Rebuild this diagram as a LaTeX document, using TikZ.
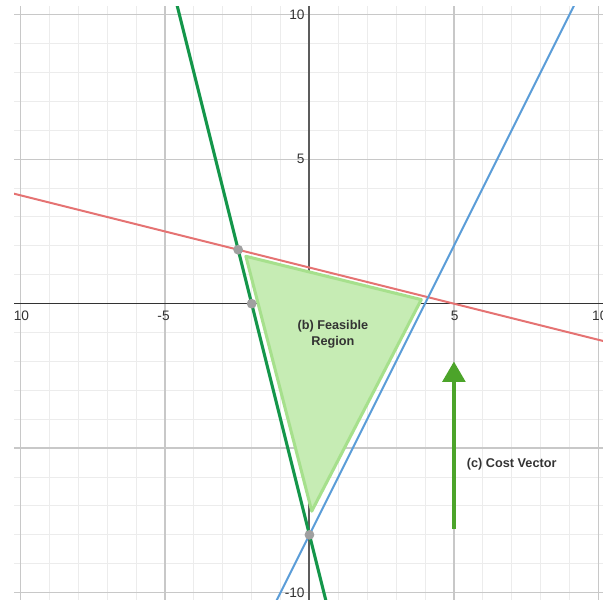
\documentclass[tikz,border=0pt]{standalone}
\usepackage{fontspec}
\setmainfont{Liberation Sans}
\usetikzlibrary{arrows.meta}

\definecolor{gridminor}{HTML}{ECECEC}
\definecolor{gridmajor}{HTML}{C8C8C8}
\definecolor{axiscol}{HTML}{333333}
\definecolor{redline}{HTML}{E57373}
\definecolor{blueline}{HTML}{5B9DD8}
\definecolor{greenline}{HTML}{14964A}
\definecolor{regionfill}{HTML}{C6ECB4}
\definecolor{regionedge}{HTML}{A6E08C}
\definecolor{costcol}{HTML}{4CA42A}
\definecolor{dotcol}{HTML}{A0A0A0}
\definecolor{textcol}{HTML}{333333}

\tikzset{
  minorgrid/.style={gridminor, line width=1pt},
  majorgrid/.style={gridmajor, line width=1.3pt},
  ticklabel/.style={text=textcol, font=\fontsize{13.5}{16}\selectfont, inner sep=0pt},
  boxlabel/.style={text=textcol, font=\bfseries\fontsize{12.5}{15}\selectfont, align=center, inner sep=0pt},
  vertexdot/.style={dotcol}
}

\begin{document}
\begin{tikzpicture}[x=1cm,y=1cm]
    \useasboundingbox (-10.71,-10.25) rectangle (10.16,10.51);
    \begin{scope}
    \clip (-10.22,-10.25) rectangle (10.16,10.27);

    % grid
    \foreach \x in {-10,...,10} {\draw[minorgrid] (\x,-10.3) -- (\x,10.3);}
    \foreach \y in {-10,...,10} {\draw[minorgrid] (-10.3,\y) -- (10.3,\y);}
    \foreach \x in {-10,-5,5,10} {\draw[majorgrid] (\x,-10.3) -- (\x,10.3);}
    \foreach \y in {-10,-5,5,10} {\draw[majorgrid] (-10.3,\y) -- (10.3,\y);}
    \draw[axiscol, line width=1.5pt] (-10.3,0) -- (10.3,0);
    \draw[axiscol!80, line width=2pt] (0,-10.3) -- (0,10.3);

    % tick labels
    \node[ticklabel] (xm10) at (-9.97,-0.43) {10};
    \node[ticklabel] (xm5) at (-5.05,-0.43) {-5};
    \node[ticklabel] (xp5) at (5.03,-0.43) {5};
    \node[ticklabel] (xp10) at (10.05,-0.43) {10};
    \node[ticklabel, anchor=east] (yp10) at (-0.16,10) {10};
    \node[ticklabel, anchor=east] (yp5) at (-0.16,5) {5};
    \node[ticklabel, anchor=east] (ym10) at (-0.16,-10) {-10};

    % feasible region
    \filldraw[fill=regionfill, draw=regionedge, line width=3pt, line join=round]
      (-2.2,1.64) -- (3.87,0.14) -- (0.08,-7.18) -- cycle;

    % constraints
    \draw[redline, line width=2pt] (-11,4) -- (11,-1.5);
    \draw[blueline, line width=2pt] (-2,-12) -- (10,12);
    \draw[greenline, line width=3pt] (-5.5,14) -- (1,-12);

    % vertices
    \fill[vertexdot] (-2.467,1.867) circle (0.17);
    \fill[vertexdot] (-2,0) circle (0.17);
    \fill[vertexdot] (0,-8) circle (0.17);

    % cost vector
    \coordinate (costtail) at (5,-7.8);
    \coordinate (costhead) at (5,-2);
    \draw[costcol, line width=4pt, -{Triangle[width=22pt,length=20pt]}] (costtail) -- (costhead);

    \node[boxlabel] (feasible) at (0.81,-1.06) {(b) Feasible\\Region};
    \node[boxlabel] (cost) at (7.0,-5.54) {(c) Cost Vector};
    \end{scope}
\end{tikzpicture}
\end{document}
